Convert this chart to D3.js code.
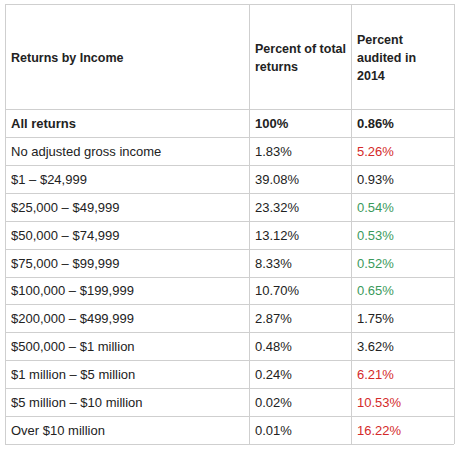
<!DOCTYPE html>
<html><head><meta charset="utf-8">
<script src="https://cdn.jsdelivr.net/npm/d3@7"></script>
<style>body{margin:0;background:#fff}</style>
</head><body><svg></svg>
<script>
// données du tableau
const categories = ["All returns","No adjusted gross income","$1 – $24,999","$25,000 – $49,999","$50,000 – $74,999","$75,000 – $99,999","$100,000 – $199,999","$200,000 – $499,999","$500,000 – $1 million","$1 million – $5 million","$5 million – $10 million","Over $10 million"];
const pctTotal = ["100%","1.83%","39.08%","23.32%","13.12%","8.33%","10.70%","2.87%","0.48%","0.24%","0.02%","0.01%"];
const pctAudited = ["0.86%","5.26%","0.93%","0.54%","0.53%","0.52%","0.65%","1.75%","3.62%","6.21%","10.53%","16.22%"];
const auditColor = ["bold","red","none","green","green","green","green","none","none","red","red","red"];
const headers = [["Returns by Income"],["Percent of total","returns"],["Percent","audited in","2014"]];

const W = 462, H = 449;
const svg = d3.select("svg").attr("width",W).attr("height",H)
  .style("font-family","'Liberation Sans', Arial, sans-serif");

const cols = [5,249,351,454];
const headTop = 4, headBottom = 109, bottom = 444;
const y = d3.scaleBand().domain(d3.range(categories.length)).range([headBottom,bottom]);
const colors = {red:"#d42a2a", green:"#3b9a5c", none:"#222", bold:"#222"};

// grille
const grid = svg.append("g").attr("stroke","#cfcfcf").attr("stroke-width",1);
cols.forEach(x => grid.append("line").attr("x1",x+.5).attr("x2",x+.5).attr("y1",headTop).attr("y2",bottom));
[headTop, ...d3.range(categories.length).map(i=>y(i)), bottom].forEach(v =>
  grid.append("line").attr("x1",cols[0]).attr("x2",cols[3]).attr("y1",Math.round(v)+.5).attr("y2",Math.round(v)+.5));

// en-têtes
headers.forEach((lines,c) => {
  const lh = 18, mid = (headTop+headBottom)/2;
  lines.forEach((t,k) => svg.append("text")
    .attr("x",cols[c]+6).attr("y",mid + (k-(lines.length-1)/2)*lh + 5)
    .attr("font-size",12.5).attr("font-weight","bold").attr("fill","#222").text(t));
});

// lignes
const rows = svg.selectAll("g.row").data(categories).enter().append("g").attr("class","row")
  .attr("transform",(d,i)=>`translate(0,${y(i)+y.bandwidth()/2+5})`);
rows.append("text").attr("x",cols[0]+6).text(d=>d);
rows.append("text").attr("x",cols[1]+6).text((d,i)=>pctTotal[i]);
rows.append("text").attr("x",cols[2]+6).text((d,i)=>pctAudited[i]).attr("fill",(d,i)=>colors[auditColor[i]]);
rows.selectAll("text").attr("font-size",13).attr("fill",function(){return d3.select(this).attr("fill")||"#222";})
  .attr("font-weight",(d,i,n)=>categories.indexOf(d)===0?"bold":"normal");
</script></body></html>
